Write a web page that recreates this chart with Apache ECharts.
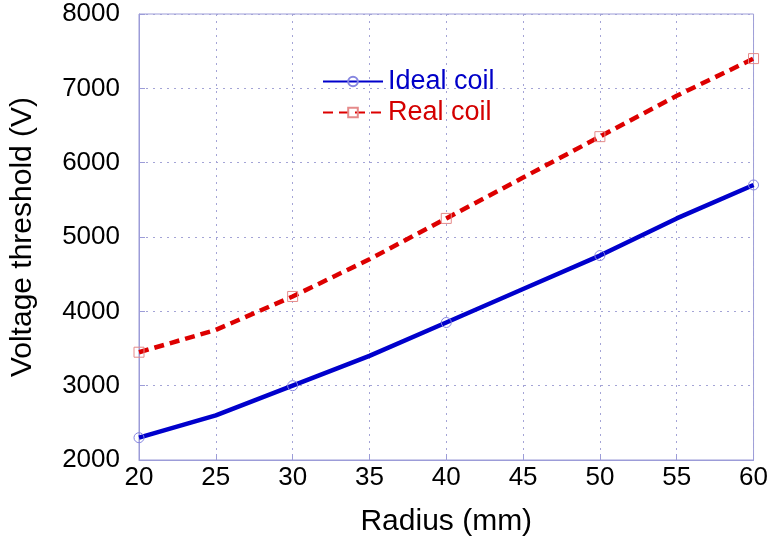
<!DOCTYPE html>
<html>
<head>
<meta charset="utf-8">
<script src="https://cdn.jsdelivr.net/npm/echarts@6/dist/echarts.min.js"></script>
<style>
html,body{margin:0;padding:0;background:#fff;}
#chart{width:771px;height:546px;}
</style>
</head>
<body>
<div id="chart"></div>
<script>
var radius = [20, 25, 30, 35, 40, 45, 50, 55, 60];
var idealCoil = [2300, 2600, 3000, 3400, 3850, 4300, 4750, 5250, 5700];
var realCoil = [3450, 3750, 4200, 4700, 5250, 5800, 6350, 6900, 7400];
var markerRadii = [20, 30, 40, 50, 60];
var xTicks = [20, 25, 30, 35, 40, 45, 50, 55, 60];
var yTicks = [2000, 3000, 4000, 5000, 6000, 7000, 8000];

var FONT = "'Liberation Sans', Arial, sans-serif";
var AXIS_COLOR = '#9c9cd8';
var GRID_COLOR = '#a4a4d6';

function build(values) {
  return radius.map(function (r, i) {
    var item = { value: [r, values[i]] };
    if (markerRadii.indexOf(r) < 0) item.symbol = 'none';
    return item;
  });
}

var chart = echarts.init(document.getElementById('chart'), null, { renderer: 'canvas' });
chart.setOption({
  animation: false,
  backgroundColor: '#fff',
  grid: { left: 130, right: 14, top: 14, bottom: 86, show: true, borderColor: AXIS_COLOR, borderWidth: 1, backgroundColor: 'transparent' },
  legend: {
    orient: 'vertical',
    left: 322,
    top: 68,
    padding: 0,
    itemWidth: 60,
    itemHeight: 12,
    itemGap: 4,
    textStyle: { fontFamily: FONT, fontSize: 27 },
    data: [
      { name: 'Ideal coil', textStyle: { color: '#0000c8' } },
      { name: 'Real coil', textStyle: { color: '#d40000' } }
    ]
  },
  xAxis: {
    type: 'value',
    min: xTicks[0],
    max: xTicks[xTicks.length - 1],
    interval: 5,
    name: 'Radius (mm)',
    nameLocation: 'middle',
    nameGap: 47,
    nameTextStyle: { fontFamily: FONT, fontSize: 30, color: '#000' },
    axisLine: { show: true, lineStyle: { color: AXIS_COLOR, width: 1 } },
    axisTick: { show: true, inside: true, length: 6, lineStyle: { color: AXIS_COLOR } },
    axisLabel: { fontFamily: FONT, fontSize: 26, color: '#000', margin: 5, formatter: function (v) { return String(v); } },
    splitLine: { show: true, lineStyle: { color: GRID_COLOR, type: [2, 5], width: 1 } }
  },
  yAxis: {
    type: 'value',
    min: yTicks[0],
    max: yTicks[yTicks.length - 1],
    interval: 1000,
    name: 'Voltage threshold (V)',
    nameLocation: 'middle',
    nameGap: 101,
    nameTextStyle: { fontFamily: FONT, fontSize: 30, color: '#000' },
    axisLine: { show: true, lineStyle: { color: AXIS_COLOR, width: 1 } },
    axisTick: { show: true, inside: true, length: 6, lineStyle: { color: AXIS_COLOR } },
    axisLabel: { fontFamily: FONT, fontSize: 26, color: '#000', margin: 19, padding: [0, 0, 6, 0], formatter: function (v) { return String(v); } },
    splitLine: { show: true, lineStyle: { color: GRID_COLOR, type: [2, 5], width: 1 } }
  },
  series: [
    {
      name: 'Ideal coil',
      type: 'line',
      data: build(idealCoil),
      symbol: 'circle',
      symbolSize: 10,
      showAllSymbol: true,
      itemStyle: { color: 'rgba(0,0,0,0)', borderColor: '#8686e0', borderWidth: 1 },
      lineStyle: { color: '#0000cc', width: 4.5 },
      z: 3
    },
    {
      name: 'Real coil',
      type: 'line',
      data: build(realCoil),
      symbol: 'rect',
      symbolSize: 10,
      showAllSymbol: true,
      itemStyle: { color: 'rgba(0,0,0,0)', borderColor: '#e58a8a', borderWidth: 1 },
      lineStyle: { color: '#dd0000', width: 4.5, type: [10, 6] },
      z: 2
    }
  ]
});
</script>
</body>
</html>
